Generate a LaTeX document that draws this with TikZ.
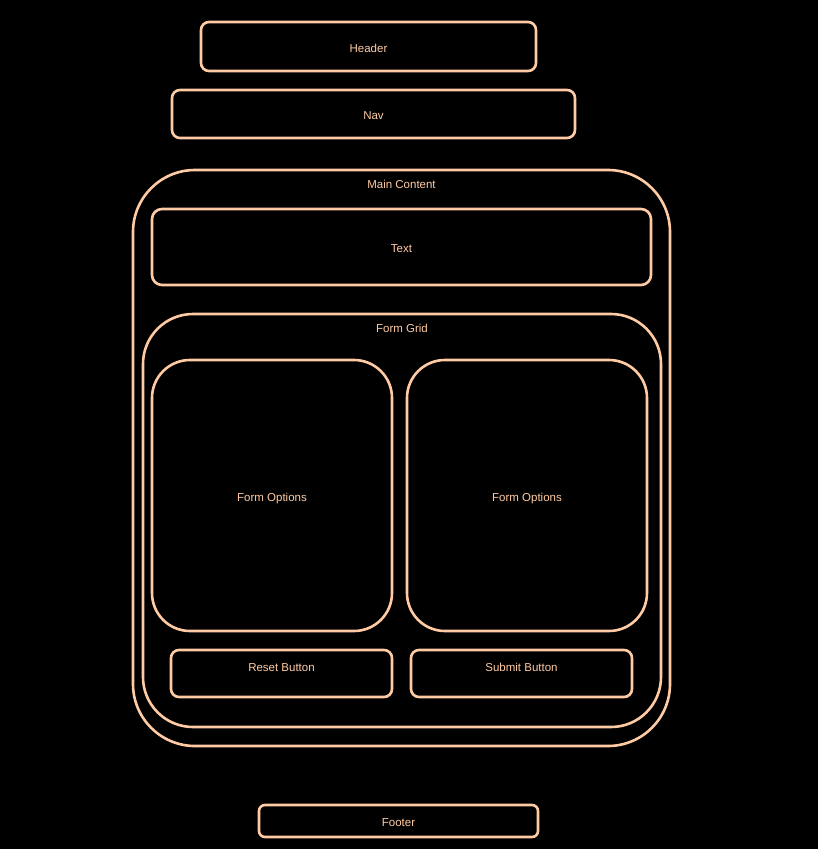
\documentclass[tikz,border=0pt]{standalone}
\usepackage{fontspec}
\setmainfont{Liberation Sans}
\usetikzlibrary{positioning}

\definecolor{peach}{HTML}{FFCBA4}

\begin{document}
\begin{tikzpicture}[x=1pt, y=-1pt,
  box/.style={draw=peach, line width=2.6pt, rectangle, inner sep=0pt, text=peach,
    text height=11.6pt, text depth=0pt, font=\fontsize{11.5}{14}\selectfont},
  toplabel/.style={text=peach, font=\fontsize{11.5}{14}\selectfont, inner sep=0pt}]
\fill [black] (0,0) rectangle (818,849);
\useasboundingbox (0,0) rectangle (818,849);
% page blocks
\node (header) [box, rounded corners=8pt, minimum width=335pt, minimum height=49pt] at (368.5,46.5) {Header};
\node (nav) [box, rounded corners=8pt, minimum width=403pt, minimum height=48pt] at (373.5,114) {Nav};
\node (main) [box, rounded corners=62pt, minimum width=537pt, minimum height=576pt] at (401.5,458) {};
\node (maintitle) [toplabel, below=11.5pt of main.north] {Main Content};
\node (text) [box, rounded corners=10pt, minimum width=499pt, minimum height=76pt] at (401.5,247) {Text};
% form grid
\node (grid) [box, rounded corners=50pt, minimum width=518pt, minimum height=413pt] at (402,520.5) {};
\node (gridtitle) [toplabel, below=11.5pt of grid.north] {Form Grid};
\foreach \name/\x in {optleft/272, optright/527}
\node (\name) [box, rounded corners=38pt, minimum width=240pt, minimum height=271pt] at (\x,495.5) {Form Options};
\node (reset) [box, rounded corners=8pt, minimum width=221pt, minimum height=47pt] at (281.5,673.5) {};
\node (resettext) [toplabel, below=14.5pt of reset.north] {Reset Button};
\node (submit) [box, rounded corners=8pt, minimum width=221pt, minimum height=47pt] at (521.5,673.5) {};
\node (submittext) [toplabel, below=14pt of submit.north] {Submit Button};
% footer
\node (footer) [box, rounded corners=6pt, minimum width=279pt, minimum height=32pt] at (398.5,821) {Footer};
\end{tikzpicture}
\end{document}
